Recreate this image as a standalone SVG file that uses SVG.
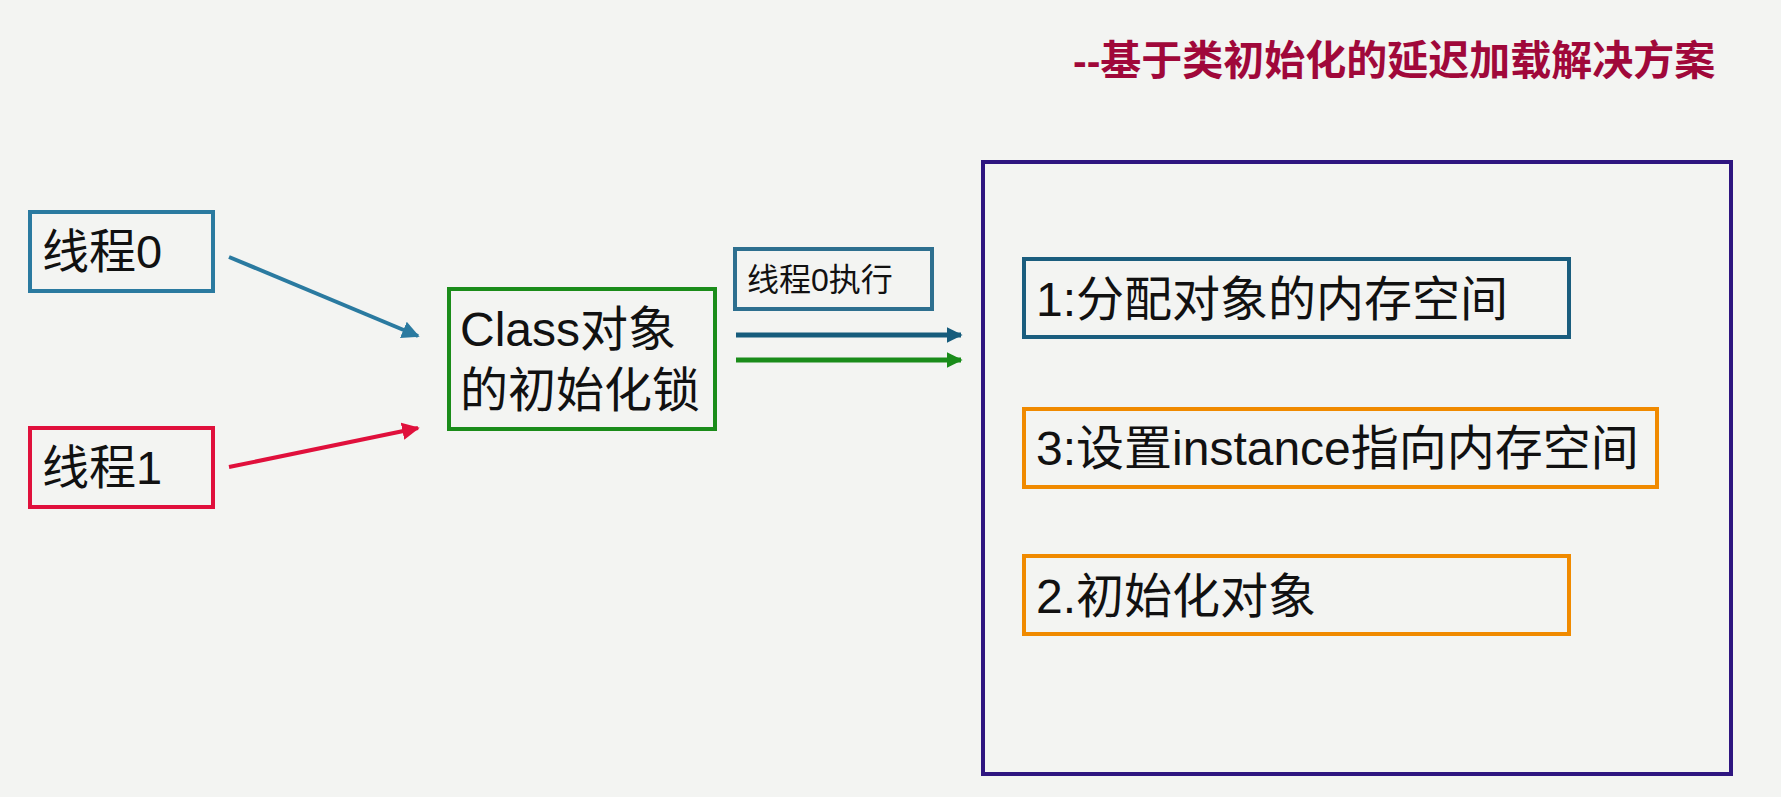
<svg xmlns="http://www.w3.org/2000/svg" width="1781" height="797" viewBox="0 0 1781 797">
<style>
.t{font-family:"Liberation Sans","Noto Sans CJK SC",sans-serif;fill:#111}
.box{fill:none;stroke-width:4}
</style>
<defs>
<marker id="aBlue" viewBox="0 0 10 10" refX="9" refY="5" markerWidth="4.4" markerHeight="4.4" orient="auto" markerUnits="strokeWidth"><path d="M0,0L10,5L0,10z" fill="#2a7aa0"/></marker>
<marker id="aRed" viewBox="0 0 10 10" refX="9" refY="5" markerWidth="4.4" markerHeight="4.4" orient="auto" markerUnits="strokeWidth"><path d="M0,0L10,5L0,10z" fill="#e0103c"/></marker>
<marker id="aDark" viewBox="0 0 10 10" refX="9" refY="5" markerWidth="3.2" markerHeight="3.2" orient="auto" markerUnits="strokeWidth"><path d="M0,0L10,5L0,10z" fill="#165c7c"/></marker>
<marker id="aGreen" viewBox="0 0 10 10" refX="9" refY="5" markerWidth="3.2" markerHeight="3.2" orient="auto" markerUnits="strokeWidth"><path d="M0,0L10,5L0,10z" fill="#1a8c1a"/></marker>
</defs>
<rect width="1781" height="797" fill="#f3f4f2"/>
<g id="title">
<text x="1073" y="75" style="font-family:'Liberation Sans','Noto Sans CJK SC',sans-serif;font-weight:bold;font-size:41px;fill:#a0083a">--基于类初始化的延迟加载解决方案</text>
</g>
<g id="thread0">
<rect class="box" x="30" y="212" width="183" height="79" stroke="#2a7aa0"/>
<text class="t" x="42" y="268" font-size="47">线程0</text>
</g>
<g id="thread1">
<rect class="box" x="30" y="428" width="183" height="79" stroke="#e0103c"/>
<text class="t" x="42" y="484" font-size="47">线程1</text>
</g>
<g id="lock">
<rect class="box" x="449" y="289" width="266" height="140" stroke="#1a8c1a"/>
<text class="t" x="460" y="346" font-size="48">Class对象</text>
<text class="t" x="460" y="407" font-size="48">的初始化锁</text>
</g>
<g id="exec-label">
<rect class="box" x="735" y="249" width="197" height="60" stroke="#2d6f8f"/>
<text class="t" x="747" y="291" font-size="32">线程0执行</text>
</g>
<g id="container">
<rect class="box" x="983" y="162" width="748" height="612" stroke="#2e1580" stroke-width="4.5"/>
</g>
<g id="step1">
<rect class="box" x="1024" y="259" width="545" height="78" stroke="#1a5d7e"/>
<text class="t" x="1036" y="316" font-size="48">1:分配对象的内存空间</text>
</g>
<g id="step3">
<rect class="box" x="1024" y="409" width="633" height="78" stroke="#f08a00"/>
<text class="t" x="1036" y="465" font-size="48">3:设置instance指向内存空间</text>
</g>
<g id="step2">
<rect class="box" x="1024" y="556" width="545" height="78" stroke="#f08a00"/>
<text class="t" x="1036" y="613" font-size="48">2.初始化对象</text>
</g>
<g id="connectors" fill="none">
<line x1="229" y1="257" x2="418" y2="336" stroke="#2a7aa0" stroke-width="4" marker-end="url(#aBlue)"/>
<line x1="229" y1="467" x2="418" y2="428" stroke="#e0103c" stroke-width="4" marker-end="url(#aRed)"/>
<line x1="736" y1="335" x2="961" y2="335" stroke="#165c7c" stroke-width="5" marker-end="url(#aDark)"/>
<line x1="736" y1="360" x2="961" y2="360" stroke="#1a8c1a" stroke-width="5" marker-end="url(#aGreen)"/>
</g>
</svg>
